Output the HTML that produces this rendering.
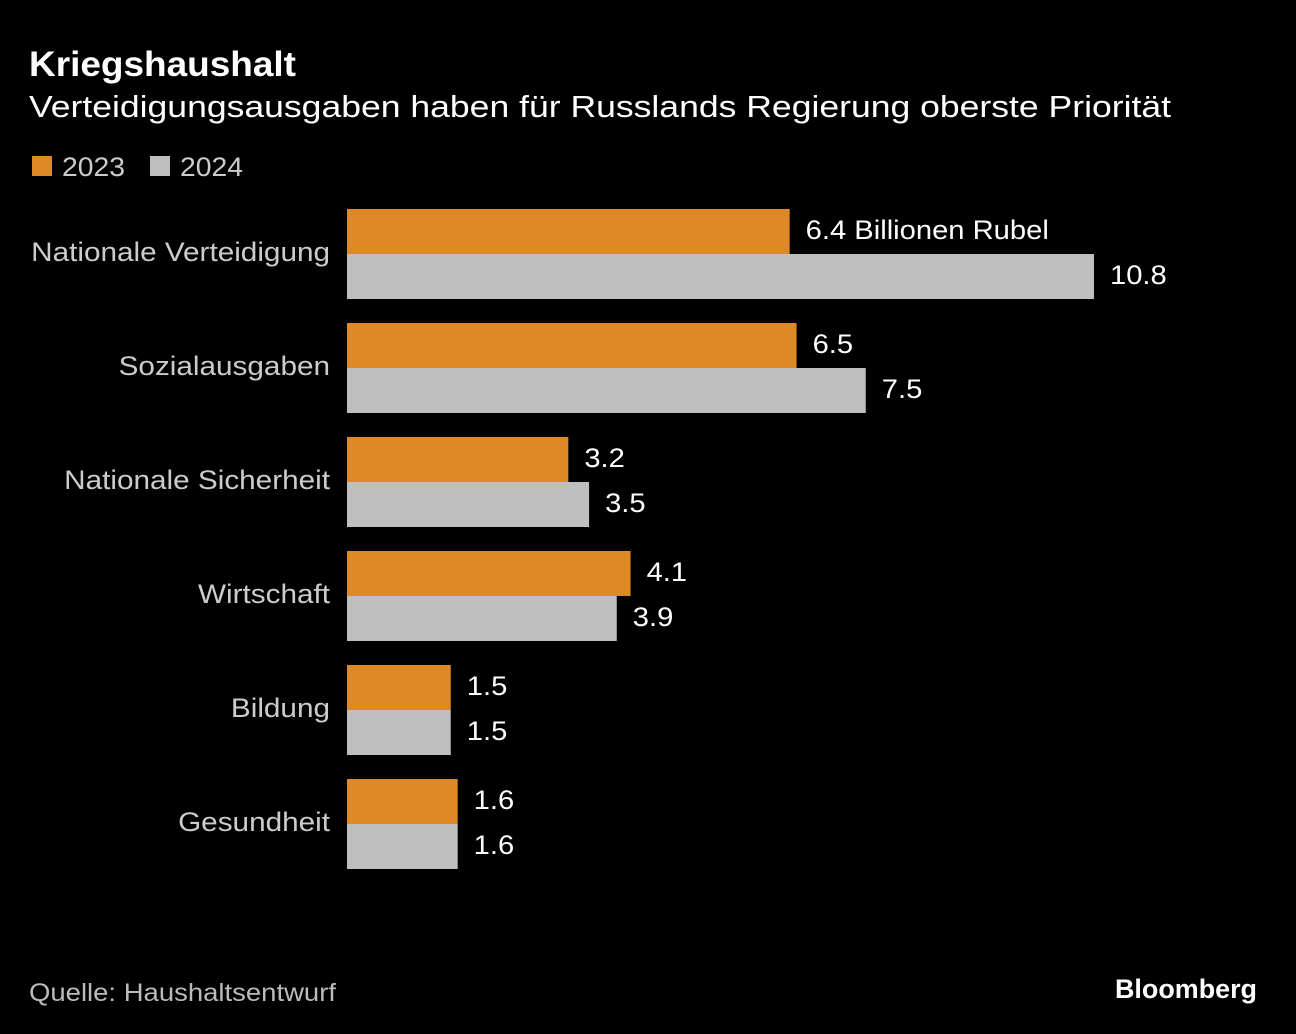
<!DOCTYPE html>
<html><head><meta charset="utf-8"><style>
html,body{margin:0;padding:0;background:#000;}
svg{display:block;font-family:"Liberation Sans",sans-serif;}
</style></head><body>
<svg id="chart" width="1296" height="1034" viewBox="0 0 1296 1034">
<rect width="1296" height="1034" fill="#000"/>
<text x="29" y="76" fill="#fff" font-size="35" font-weight="bold" textLength="267" lengthAdjust="spacingAndGlyphs">Kriegshaushalt</text>
<text x="29" y="117" fill="#fff" font-size="31" textLength="1142" lengthAdjust="spacingAndGlyphs">Verteidigungsausgaben haben für Russlands Regierung oberste Priorität</text>
<g>
<rect x="32" y="156" width="20" height="20" fill="#dd8a26"/>
<text x="62" y="176" fill="#ccc" font-size="27" textLength="63" lengthAdjust="spacingAndGlyphs">2023</text>
<rect x="150" y="156" width="20" height="20" fill="#bfbfbf"/>
<text x="180" y="176" fill="#ccc" font-size="27" textLength="63" lengthAdjust="spacingAndGlyphs">2024</text>
</g>
<g id="bars"></g>
<text x="29" y="1001" fill="#bbb" font-size="25" textLength="307" lengthAdjust="spacingAndGlyphs">Quelle: Haushaltsentwurf</text>
<text x="1257" y="998" fill="#fff" font-size="27" font-weight="bold" text-anchor="end" textLength="142" lengthAdjust="spacingAndGlyphs">Bloomberg</text>
</svg>
<script>
const categories = ["Nationale Verteidigung","Sozialausgaben","Nationale Sicherheit","Wirtschaft","Bildung","Gesundheit"];
const values2023 = [6.4,6.5,3.2,4.1,1.5,1.6];
const values2024 = [10.8,7.5,3.5,3.9,1.5,1.6];
const labels2023 = ["6.4 Billionen Rubel","6.5","3.2","4.1","1.5","1.6"];
const labels2024 = ["10.8","7.5","3.5","3.9","1.5","1.6"];
const NS="http://www.w3.org/2000/svg";
const x0=347, scale=747/10.8, top0=209, pitch=114, bh=45;
const xs=v=>x0+v*scale;
const g=document.getElementById('bars');
function mk(tag,attrs){const e=document.createElementNS(NS,tag);for(const k in attrs)e.setAttribute(k,attrs[k]);return e;}
function widen(t,f){const w=t.getComputedTextLength();t.setAttribute('textLength',w*f);t.setAttribute('lengthAdjust','spacingAndGlyphs');}
categories.forEach((c,i)=>{
  const y=top0+i*pitch;
  const t=mk('text',{x:330,y:y+bh+7,fill:'#ccc','font-size':27,'text-anchor':'end'});
  t.textContent=c;
  
  
  g.appendChild(t);
  widen(t,1.1);
  [[values2023,labels2023,'#dd8a26',0],[values2024,labels2024,'#bfbfbf',1]].forEach(([vals,labs,col,k])=>{
    const yy=y+k*bh;
    const r=mk('rect',{x:x0,y:yy,width:xs(vals[i])-x0,height:bh,fill:col});
    
    
    g.appendChild(r);
    const l=mk('text',{x:xs(vals[i])+16,y:yy+30,fill:'#fff','font-size':27});
    l.textContent=labs[i];
    
    
    g.appendChild(l);
    widen(l,1.08);
  });
});
</script>
</body></html>
